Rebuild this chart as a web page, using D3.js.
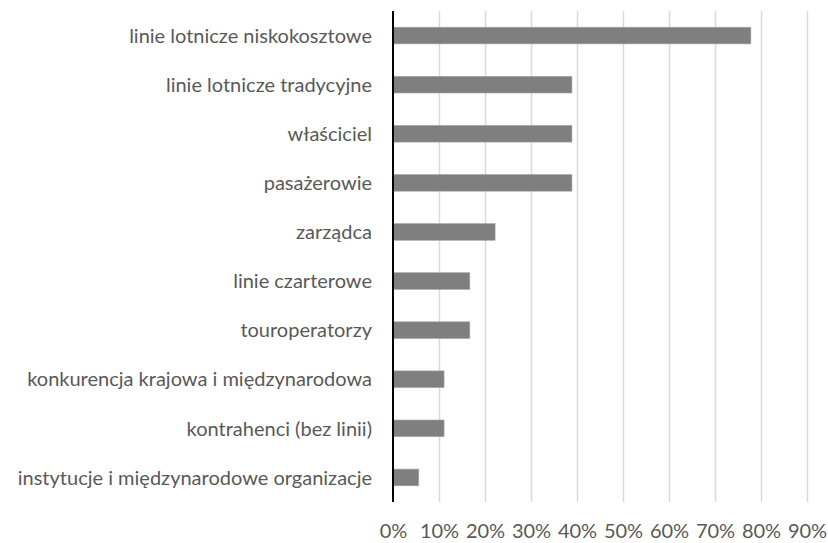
<!DOCTYPE html>
<head>
    <meta charset="utf-8">
    <script src="https://d3js.org/d3.v7.min.js"></script>
    <style>
        body { margin: 0; background: #fff; }
        text { font-family: Lato, "Open Sans", sans-serif; fill: #595959; }
        .grid line { stroke: #d9d9d9; stroke-width: 1.5px; }
        .grid path { display: none; }
        .xaxis path, .xaxis line { display: none; }
        .yaxis path, .yaxis line { display: none; }
        .bar { fill: #7f7f7f; stroke: #a6a6a6; stroke-width: 0.6px; }
    </style>
</head>
<body>
<script>
    var width = 828, height = 543;

    var categories = [
        "linie lotnicze niskokosztowe",
        "linie lotnicze tradycyjne",
        "właściciel",
        "pasażerowie",
        "zarządca",
        "linie czarterowe",
        "touroperatorzy",
        "konkurencja krajowa i międzynarodowa",
        "kontrahenci (bez linii)",
        "instytucje i międzynarodowe organizacje"
    ];
    var values = [0.778, 0.389, 0.389, 0.389, 0.222, 0.167, 0.167, 0.111, 0.111, 0.056];
    var ticks = [0, 0.1, 0.2, 0.3, 0.4, 0.5, 0.6, 0.7, 0.8, 0.9];

    var margin = { top: 11, left: 393, right: 21, bottom: 41 };

    var svg = d3.select("body").append("svg")
        .attr("width", width)
        .attr("height", height);

    var x = d3.scaleLinear()
        .domain([0, 0.9])
        .range([margin.left, width - margin.right]);

    var y = d3.scaleBand()
        .domain(categories)
        .range([margin.top, height - margin.bottom])
        .paddingInner(0.66)
        .paddingOuter(0.33);

    svg.append("g")
        .attr("class", "grid")
        .attr("transform", "translate(0," + margin.top + ")")
        .call(d3.axisBottom(x).tickValues(ticks.slice(1))
            .tickSize(height - margin.bottom - margin.top).tickFormat(""));

    svg.append("g")
        .selectAll("rect")
        .data(values)
        .enter().append("rect")
        .attr("class", "bar")
        .attr("x", x(0))
        .attr("y", function(d, i) { return y(categories[i]); })
        .attr("width", function(d) { return x(d) - x(0); })
        .attr("height", y.bandwidth());

    svg.append("line")
        .attr("x1", x(0)).attr("x2", x(0))
        .attr("y1", margin.top).attr("y2", height - margin.bottom)
        .attr("stroke", "#000")
        .attr("stroke-width", 2);

    svg.append("g")
        .attr("class", "yaxis")
        .attr("transform", "translate(" + (x(0) - 21) + ",0)")
        .call(d3.axisLeft(y).tickSize(0).tickPadding(0))
        .selectAll("text")
        .style("font-size", "20px")
        .attr("dy", "0.36em");

    svg.append("g")
        .attr("class", "xaxis")
        .attr("transform", "translate(0," + (height - margin.bottom) + ")")
        .call(d3.axisBottom(x).tickValues(ticks).tickSize(0).tickPadding(22)
            .tickFormat(d3.format(".0%")))
        .selectAll("text")
        .style("font-size", "20px");

    svg.selectAll(".yaxis, .xaxis").attr("font-family", null);
</script>
</body>
